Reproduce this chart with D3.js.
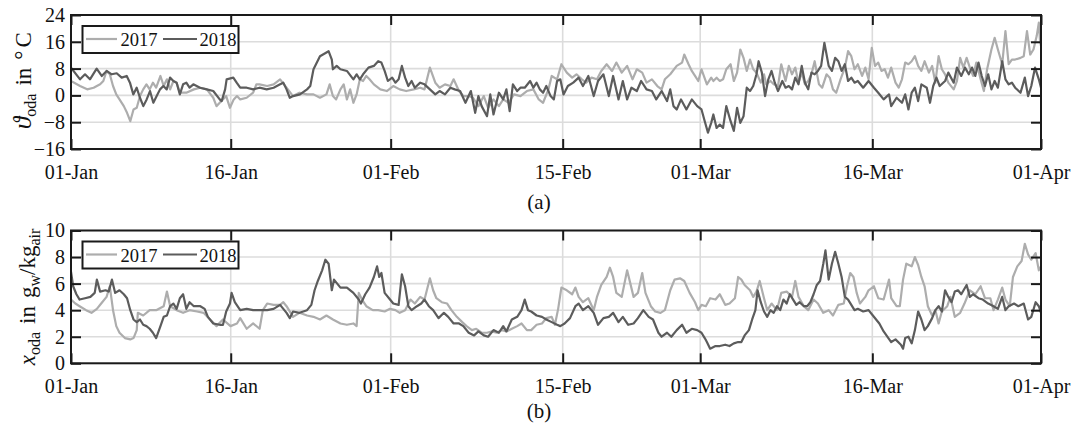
<!DOCTYPE html>
<html>
<head>
<meta charset="utf-8">
<script src="https://cdn.jsdelivr.net/npm/d3@7"></script>
<style>
  html, body { margin: 0; padding: 0; background: #fff; }
  svg { display: block; font-family: "Liberation Serif", "Times New Roman", serif; }
</style>
</head>
<body>
<svg id="chart" width="1073" height="427"></svg>
<script>
// ---------- DATA (x = day offset from 01-Jan as read on the axis) ----------
const xTickPos = [0, 14.82, 29.66, 45.62, 58.38, 74.35, 90];
const xTickLabels = ["01-Jan", "16-Jan", "01-Feb", "15-Feb", "01-Mar", "16-Mar", "01-Apr"];
const seriesNames = ["2017", "2018"];
const tempTicks = [-16, -8, 0, 8, 16, 24];
const humTicks = [0, 2, 4, 6, 8, 10];

// (a) outdoor air temperature in °C
const temp2017 = [[0,4.3],[0.84,2.8],[1.5,1.8],[2.1,2.3],[2.7,3.3],[3,4.3],[3.3,7.3],[3.6,6.3],[3.9,2.8],[4.2,0.3],[4.5,-1.2],[4.9,-3.2],[5.2,-5.2],[5.5,-7.7],[5.8,-4.2],[6.1,-3.7],[6.4,-0.2],[6.7,1.8],[7,3.3],[7.3,1.8],[7.6,3.8],[7.9,2.3],[8.3,5.8],[8.6,2.8],[8.9,4.8],[9.2,1.8],[9.5,4.3],[9.8,3.8],[10.1,0.8],[10.7,0.8],[11.4,1.8],[12,2.3],[12.6,1.8],[13.2,-0.7],[13.5,-3.2],[13.8,-2.2],[14.4,-0.2],[14.75,-3.7],[15.1,-1.2],[15.4,-0.2],[15.7,-1.2],[16.3,-0.7],[16.9,0.8],[17.2,3.3],[17.5,3.3],[18.2,2.8],[18.8,3.3],[19.4,4.8],[20,2.3],[20.6,-0.2],[21.2,0.8],[21.9,0.3],[22.5,0.3],[23.1,-0.7],[23.7,0.3],[24,3.3],[24.3,-0.2],[24.6,-1.2],[25,1.8],[25.3,3.3],[25.6,-1.2],[25.9,1.8],[26.2,-2.2],[26.5,0.3],[26.8,4.8],[27.1,4.3],[27.4,5.8],[27.7,4.8],[28.1,3.3],[28.7,1.8],[29.3,1.3],[29.9,2.8],[30.5,1.8],[31.1,1.3],[31.8,1.8],[32.4,2.3],[32.8,1.8],[33.3,8.3],[33.8,3.8],[34.2,2.3],[34.7,3.3],[35.2,2.8],[35.5,4.8],[36,1.3],[36.4,-0.2],[36.9,-0.2],[37.3,-0.7],[37.8,-3.2],[38.3,-0.2],[38.7,-3.7],[39.2,-1.2],[39.7,-3.2],[40.1,-1.2],[40.6,-2.2],[41.1,0.3],[41.7,-0.2],[42.3,1.3],[42.9,1.8],[43.4,-1.2],[43.8,-2.2],[44.3,1.8],[44.6,5.8],[45.1,4.8],[45.5,9.3],[46,6.8],[46.5,5.3],[46.9,6.3],[47.4,4.8],[47.8,3.8],[48.3,5.3],[48.8,4.8],[49.2,7.3],[49.7,9.3],[50.2,7.3],[50.6,9.8],[51.1,6.8],[51.6,8.8],[52.1,4.8],[52.5,7.8],[53,6.8],[53.4,3.8],[53.9,4.8],[54.4,2.8],[54.8,1.8],[55.1,4.8],[55.6,6.3],[56.2,8.8],[56.7,9.8],[56.9,12.2],[57.3,9.3],[57.6,7.3],[57.9,5.8],[58.2,4.3],[58.5,7.8],[59,3.3],[59.4,5.3],[59.6,4.3],[59.9,5.3],[60.2,4.3],[60.5,4.8],[60.8,7.8],[61.2,9.3],[61.5,4.3],[61.8,6.8],[62.1,13.7],[62.4,11.2],[62.7,7.3],[63,10.7],[63.3,7.8],[63.6,6.8],[64,3.8],[64.3,6.3],[64.5,3.3],[64.9,4.3],[65.2,3.3],[65.6,2.8],[65.9,9.3],[66.3,4.3],[66.6,8.8],[66.9,6.3],[67.2,8.3],[67.5,3.8],[67.8,6.8],[68.1,3.3],[68.4,4.3],[68.7,6.3],[69,10.2],[69.4,3.3],[69.7,2.3],[70.1,6.3],[70.4,5.3],[70.7,1.8],[71,0.8],[71.4,4.8],[71.8,8.3],[72.1,13.2],[72.4,11.7],[72.7,7.8],[73,9.3],[73.4,5.8],[73.7,8.3],[74,4.8],[74.3,14.2],[74.6,8.8],[74.9,9.8],[75.2,7.3],[75.5,7.8],[75.8,5.3],[76.1,8.3],[76.5,3.8],[76.8,2.3],[77.1,4.8],[77.4,9.8],[77.7,9.3],[78,10.2],[78.3,11.7],[78.6,8.8],[78.9,7.3],[79.2,10.2],[79.6,6.8],[79.9,8.8],[80.2,3.8],[80.5,11.7],[80.8,7.8],[81.1,6.3],[81.4,3.8],[81.9,1.8],[82.2,4.3],[82.5,11.2],[82.8,8.3],[83.1,11.2],[83.4,8.3],[83.7,5.8],[84,9.8],[84.4,4.8],[84.7,1.3],[85,7.8],[85.4,13.7],[85.7,17.2],[86,13.7],[86.4,9.3],[86.7,19.2],[87,9.3],[87.3,10.7],[87.6,10.7],[88.1,11.2],[88.4,11.7],[88.7,19.2],[89,12.2],[89.3,13.7],[89.6,17.7],[89.8,21.7],[89.9,16.7],[90,14.7]];
const temp2018 = [[0,8.3],[0.84,4.8],[1.3,6.3],[1.76,4.8],[2.38,8],[2.85,5.8],[3.31,7.3],[3.77,6.3],[4.24,6.6],[4.7,5.3],[5.17,5.8],[5.47,3.8],[5.78,0.3],[6.09,2.3],[6.4,-0.7],[6.71,-3.2],[7.02,-1.2],[7.33,1.3],[7.64,-2.2],[7.95,-0.2],[8.26,1.8],[8.57,2.8],[8.88,1.8],[9.19,5.3],[9.5,4.3],[9.8,3.8],[10.1,0.3],[10.4,3.3],[10.7,3.8],[11,2.3],[11.35,3.3],[11.97,2.3],[12.6,1.8],[13.2,1.3],[13.8,-1.2],[13.98,-1.7],[14.3,1.8],[14.44,4.8],[15.06,5.3],[15.37,3.8],[15.7,2.3],[16.3,2.3],[16.9,1.8],[17.5,2.3],[18.16,1.8],[18.8,2.3],[19.4,3.3],[19.7,3.8],[20,1.8],[20.3,-0.7],[20.6,-0.2],[21.25,0.3],[21.9,1.8],[22.2,2.8],[22.5,7.8],[23.1,11.7],[23.9,13.2],[24.2,10.7],[24.3,7.8],[24.65,8.8],[25,7.8],[25.6,7.3],[26.2,4.8],[26.5,6.3],[26.8,4.8],[27.1,6.3],[27.6,8.3],[28.1,8.8],[28.5,10.2],[28.8,9.8],[29.1,7.3],[29.4,4.3],[29.8,5.3],[30.1,3.8],[30.4,4.8],[30.7,8.8],[31,5.3],[31.3,2.8],[31.6,4.3],[31.9,2.3],[32.4,3.8],[32.8,3.3],[33.3,1.8],[33.8,0.3],[34.2,1.3],[34.7,0.3],[35.2,2.3],[35.6,1.8],[36.1,1.3],[36.6,-2.2],[37.1,1.3],[37.5,-5.2],[37.8,-0.2],[38.1,-3.2],[38.6,-6.2],[38.9,0.3],[39.2,-5.7],[39.7,0.8],[40.1,-1.2],[40.4,1.8],[40.7,-4.7],[41,3.3],[41.4,1.3],[41.7,2.3],[42.1,2.3],[42.6,4.3],[42.9,2.3],[43.2,3.8],[43.5,1.8],[43.8,0.8],[44.1,2.8],[44.5,-0.2],[44.8,-1.2],[45.1,4.3],[45.4,4.8],[45.7,0.3],[46.1,2.8],[46.6,3.8],[47.1,5.3],[47.5,2.8],[48,5.8],[48.5,-0.2],[48.9,4.3],[49.4,6.3],[49.9,-0.2],[50.3,5.8],[50.8,-1.2],[51.2,4.3],[51.6,-1.2],[52,2.3],[52.5,1.3],[52.9,4.3],[53.4,1.8],[53.9,1.3],[54.3,-1.2],[54.8,1.3],[55.3,-1.7],[55.6,1.8],[55.9,-3.2],[56.2,-4.2],[56.6,-1.2],[57.1,-4.2],[57.6,-1.2],[58.1,-3.2],[58.5,-4.2],[58.8,-7.7],[59.1,-11.1],[59.4,-8.2],[59.6,-5.7],[59.9,-9.7],[60.2,-8.7],[60.5,-9.7],[60.8,-3.2],[61.2,-7.7],[61.5,-10.6],[61.8,-3.7],[62.1,-8.2],[62.4,-6.2],[62.7,2.3],[63,1.3],[63.3,2.8],[63.6,6.3],[63.8,10.2],[64.1,6.8],[64.4,-0.2],[64.7,4.8],[65,7.3],[65.3,3.8],[65.6,1.3],[66,4.3],[66.3,2.3],[66.6,2.8],[66.9,1.8],[67.2,5.3],[67.5,3.3],[67.8,8.8],[68.1,3.8],[68.4,1.8],[68.7,6.8],[69,6.3],[69.3,7.3],[69.6,8.8],[69.9,15.7],[70.3,8.8],[70.6,7.3],[70.9,11.2],[71.2,10.2],[71.5,7.3],[71.8,9.3],[72.1,4.3],[72.4,5.3],[72.7,3.8],[73,4.3],[73.5,2.3],[74,4.3],[74.5,2.3],[74.9,0.8],[75.4,-1.2],[75.9,0.3],[76.1,-3.2],[76.6,-0.7],[77.1,-2.2],[77.4,0.3],[77.7,-4.2],[78,0.8],[78.3,2.3],[78.6,-1.7],[78.9,3.3],[79.4,2.3],[79.7,-2.2],[80,2.8],[80.3,5.3],[80.6,2.8],[81.1,4.3],[81.4,6.8],[81.9,3.8],[82.2,8.3],[82.6,5.8],[82.95,8.3],[83.3,6.3],[83.6,8.3],[83.9,5.8],[84.2,9.8],[84.5,5.8],[84.8,2.8],[85.1,6.3],[85.4,1.8],[85.7,4.3],[86,2.3],[86.4,10.2],[86.7,4.8],[87,3.3],[87.3,3.8],[87.6,2.3],[88.1,0.8],[88.5,5.3],[88.8,-0.2],[89.1,2.8],[89.45,8.3],[89.8,4.8],[90,2.3]];

// (b) outdoor air humidity ratio in g_w/kg_air
const hum2017 = [[0,4.8],[0.4,4.5],[0.8,4.3],[1.4,4],[1.9,3.8],[2.4,4.1],[2.8,4.5],[3.3,5],[3.6,5.8],[3.9,4],[4.2,2.8],[4.5,2.3],[5,1.9],[5.5,1.8],[5.8,1.9],[6.1,2.5],[6.2,3.8],[6.7,3.6],[7.3,4],[7.9,4],[8.6,4.3],[8.9,5.4],[9.2,4.3],[9.8,4],[10.4,3.8],[11,4],[11.7,3.9],[12.3,3.8],[12.9,3.3],[13.5,2.8],[14.1,3.3],[14.8,2.8],[15.4,3],[15.7,3.4],[16.3,2.6],[16.9,3],[17.5,2.6],[17.8,4],[18.2,4.5],[18.8,4.4],[19.4,4.4],[19.7,4.6],[20,4.3],[20.6,3.5],[21.2,3.8],[21.9,3.6],[22.5,3.5],[23.1,3.3],[23.7,3.6],[24.3,3.3],[25,3],[25.6,2.9],[26.2,3],[26.5,2.8],[26.7,5.3],[27,4.8],[27.4,4.3],[28,4],[28.5,4],[29.1,3.9],[29.6,4.1],[30.1,4],[30.5,3.8],[31,4],[31.5,4.8],[31.9,4.5],[32.4,5],[32.8,4.8],[33.3,6.4],[33.6,5.5],[33.9,4.9],[34.4,4.6],[34.9,4.5],[35.3,4],[35.8,3.5],[36.3,3.1],[36.7,2.8],[37.2,2.5],[37.6,2.6],[38.1,2.3],[38.6,2.3],[39,2.4],[39.5,2.3],[40,2.5],[40.4,2.4],[40.9,2.6],[41.4,2.8],[41.8,3],[42.3,2.5],[42.7,2.5],[43.2,2.9],[43.7,3],[44.1,3.4],[44.6,3.5],[44.9,2.9],[45.2,4.1],[45.5,5.7],[46,5.5],[46.5,5.2],[46.8,5.7],[47.1,5],[47.5,4.6],[48,4.9],[48.5,4],[48.8,5],[49.2,5.9],[49.7,6.5],[50,7.2],[50.3,6.5],[50.6,5.3],[51.1,5],[51.6,7],[51.9,6],[52.2,5],[52.6,5.3],[53,6.8],[53.3,5.3],[53.8,4.3],[54.2,3.9],[54.7,3.8],[55.1,4],[55.6,5.5],[56,6.3],[56.5,6.4],[56.9,6.2],[57.4,5.3],[57.9,4.6],[58.2,4],[58.5,4.4],[58.9,4.3],[59.3,4.9],[59.8,4.8],[60.2,5.2],[60.7,4.4],[61.1,4.5],[61.6,4.9],[61.9,6.5],[62.2,6.3],[62.5,5.9],[63,5.5],[63.3,5],[63.6,5.4],[63.9,6.2],[64.3,4.9],[64.6,4],[65,4.5],[65.5,4],[65.9,5.3],[66.4,5.4],[66.9,5],[67.2,6.2],[67.5,5],[68,4.3],[68.4,4],[68.9,4.8],[69.3,4.5],[69.8,3.8],[70.3,4],[70.7,3.6],[71.2,4.4],[71.7,4.5],[72,5.8],[72.3,6.8],[72.6,6.5],[72.9,5.3],[73.2,4.5],[73.7,5],[74,5.5],[74.5,5.8],[74.9,4.9],[75.4,4.8],[75.9,6.3],[76.1,4.9],[76.6,4.3],[76.9,4.3],[77.2,6.3],[77.5,7.5],[78,7.3],[78.3,8],[78.6,7.4],[78.9,6.5],[79.2,5.8],[79.5,4.3],[79.9,3.6],[80.2,4],[80.5,3],[80.8,3.9],[81.3,4.3],[81.6,5],[82,3.5],[82.5,3.8],[82.9,4.5],[83.4,5.5],[83.9,5.2],[84.4,5.8],[84.8,4.9],[85.3,4.9],[85.6,4],[86,4.8],[86.4,5.7],[86.7,4.8],[87.1,4.3],[87.4,6.5],[87.8,7.3],[88.2,7.7],[88.5,9],[88.8,8.2],[89.1,7.8],[89.5,8.3],[89.8,7],[90,7.3]];
const hum2018 = [[0,6.9],[0.2,5.8],[0.5,5.2],[0.8,4.8],[1.3,4.9],[1.8,5],[2.2,5.3],[2.4,6.3],[2.7,5.4],[3.2,5.5],[3.5,5.4],[3.8,6.3],[4.1,5.3],[4.5,5.5],[4.9,5.2],[5.2,4.9],[5.5,4],[5.8,3.3],[6.1,3.1],[6.4,3.3],[6.7,2.9],[7,2.8],[7.3,2.6],[7.6,2.3],[7.9,1.9],[8.3,2.8],[8.6,3.5],[8.9,3.6],[9.2,4.3],[9.5,4.5],[9.8,4.1],[10.1,4.9],[10.4,5.2],[10.7,4.1],[11,4.6],[11.4,4.3],[12,4.3],[12.4,4.1],[12.7,3.5],[13.2,3],[13.8,2.9],[14.1,2.9],[14.4,3.9],[14.75,4.5],[14.9,5.3],[15.2,4.6],[15.7,4],[16.3,4.1],[16.9,4],[17.5,4],[18.2,4],[18.8,4.1],[19.4,4.4],[20,3.8],[20.3,3.4],[20.6,3.9],[21.2,3.8],[21.9,4],[22.3,4.4],[22.6,5.5],[22.9,6.2],[23.3,7],[23.6,7.8],[23.9,7.5],[24.2,5.5],[24.4,6.3],[24.7,6],[25,5.7],[25.6,5.7],[26.2,5.3],[26.7,4.8],[26.9,4.5],[27.3,5.2],[27.7,5.7],[28.1,6.5],[28.4,7.3],[28.6,6.5],[28.8,6.8],[29.1,5.3],[29.6,4.8],[29.9,4.5],[30.4,4.4],[30.7,6.7],[31,5.8],[31.3,4.3],[31.6,4],[32.1,4.3],[32.5,4.5],[32.8,4.8],[33.2,4.3],[33.6,4],[34.1,3.4],[34.6,3.8],[35,3.5],[35.5,3],[36,3],[36.4,2.8],[36.9,2.3],[37.4,2.1],[37.8,2.4],[38.3,2.1],[38.7,2],[39.2,2.5],[39.7,2.3],[40.1,2.8],[40.4,2.4],[40.9,3.3],[41.4,3.5],[41.8,4],[42.1,4.8],[42.4,4],[42.7,3.9],[43.2,3.6],[43.7,3.5],[44.1,3.3],[44.6,3.1],[45.1,2.9],[45.4,2.8],[45.8,3],[46.3,3.4],[46.8,4.3],[47.1,4.5],[47.5,4],[48,4.3],[48.5,3.8],[48.9,2.9],[49.4,3.4],[49.9,3.5],[50.3,3.8],[50.8,3.1],[51.2,3.5],[51.7,2.9],[52.2,3],[52.6,3.4],[53.1,4],[53.6,3.5],[54,3.3],[54.5,2.3],[54.8,2],[55.3,2.3],[55.7,2],[56.2,2.5],[56.7,2.9],[57.1,2.3],[57.6,2.6],[58.1,2.5],[58.5,2.3],[58.8,1.9],[59,1.6],[59.3,1.1],[59.8,1.3],[60.2,1.3],[60.7,1.4],[61.1,1.3],[61.5,1.5],[61.9,1.6],[62.2,1.6],[62.5,2.1],[62.9,2.5],[63.2,3.3],[63.5,4],[63.7,5.5],[64,4.6],[64.3,3.9],[64.6,3.5],[64.9,4],[65.2,3.8],[65.5,4.3],[65.8,4],[66.1,4.8],[66.4,4.5],[66.7,5.2],[67,4.8],[67.3,4.4],[67.6,4.6],[68,4.3],[68.3,4.3],[68.6,4.6],[68.9,5.2],[69.2,5.9],[69.5,6.2],[69.8,7.5],[70,8.5],[70.3,6.3],[70.6,7.5],[70.9,8.4],[71.2,7.5],[71.5,6.5],[71.8,5],[72.1,4.8],[72.4,4.4],[72.7,4],[73,4.1],[73.5,3.9],[74,4],[74.4,3.6],[75,3],[75.4,2.4],[76.1,1.6],[76.5,1.8],[77,1.4],[77.2,1.1],[77.4,1.9],[77.7,2],[78,1.5],[78.3,2.5],[78.6,3.9],[78.9,3.3],[79.2,2.5],[79.5,2.8],[79.9,3.4],[80.2,4],[80.5,4.3],[80.8,3.9],[81.1,5.5],[81.4,5],[81.7,4.6],[82,5.4],[82.3,5.5],[82.6,5.2],[83.1,5.9],[83.4,5],[83.7,5.2],[84.2,4.9],[84.6,4.8],[85.1,4.5],[85.6,4.3],[86,4.1],[86.4,5],[86.7,4],[87,4.3],[87.5,4.5],[87.9,4.3],[88.4,4.5],[88.8,3.3],[89.1,3.5],[89.5,4.6],[89.8,4.3],[90,3.8]];

// ---------- STYLE ----------
const colors = { "2017": "#adadad", "2018": "#5c5c5c" };
const W = 1073, H = 427;
const left = 71, right = 1041;
const svg = d3.select("#chart");

const x = d3.scaleLinear().domain([0, 90]).range([left, right]);

function drawPanel(cfg) {
  const g = svg.append("g");
  const y = d3.scaleLinear().domain(cfg.yDomain).range([cfg.bottom, cfg.top]);

  // grid
  g.append("g").selectAll("line.hg").data(cfg.yTicks).join("line")
    .attr("x1", left).attr("x2", right)
    .attr("y1", d => y(d)).attr("y2", d => y(d))
    .attr("stroke", "#dcdcdc").attr("stroke-width", 1.6);
  g.append("g").selectAll("line.vg").data(xTickPos).join("line")
    .attr("x1", d => x(d)).attr("x2", d => x(d))
    .attr("y1", cfg.top).attr("y2", cfg.bottom)
    .attr("stroke", "#dcdcdc").attr("stroke-width", 1.6);

  // lines
  const clipId = "clip" + cfg.id;
  svg.append("clipPath").attr("id", clipId).append("rect")
    .attr("x", left).attr("y", cfg.top).attr("width", right - left).attr("height", cfg.bottom - cfg.top);
  const line = d3.line().x(d => x(d[0])).y(d => y(d[1]));
  const lg = g.append("g").attr("clip-path", `url(#${clipId})`);
  cfg.series.forEach((s, i) => {
    lg.append("path").datum(s).attr("d", line)
      .attr("fill", "none").attr("stroke", colors[seriesNames[i]])
      .attr("stroke-width", 2.2).attr("stroke-linejoin", "round");
  });

  // axes (ticks inside)
  const fmt = (d, i) => xTickLabels[i];
  g.append("g").attr("transform", `translate(0,${cfg.bottom})`)
    .call(d3.axisBottom(x).tickValues(xTickPos).tickFormat(fmt).tickSizeInner(-10).tickSizeOuter(0).tickPadding(16))
    .call(a => a.select(".domain").remove());
  g.append("g").attr("transform", `translate(0,${cfg.top})`)
    .call(d3.axisTop(x).tickValues(xTickPos).tickFormat("").tickSizeInner(-10).tickSizeOuter(0))
    .call(a => a.select(".domain").remove());
  g.append("g").attr("transform", `translate(${left},0)`)
    .call(d3.axisLeft(y).tickValues(cfg.yTicks).tickSizeInner(-10).tickSizeOuter(0).tickPadding(6))
    .call(a => a.select(".domain").remove());
  g.append("g").attr("transform", `translate(${right},0)`)
    .call(d3.axisRight(y).tickValues(cfg.yTicks).tickFormat("").tickSizeInner(-10).tickSizeOuter(0))
    .call(a => a.select(".domain").remove());
  g.selectAll(".tick line").attr("stroke", "#1a1a1a").attr("stroke-width", 2);
  g.selectAll(".tick text").attr("font-family", "Liberation Serif, serif").attr("font-size", 20).attr("fill", "#111");

  // box
  g.append("rect").attr("x", left).attr("y", cfg.top)
    .attr("width", right - left).attr("height", cfg.bottom - cfg.top)
    .attr("fill", "none").attr("stroke", "#1a1a1a").attr("stroke-width", 2);

  // legend
  const L = g.append("g").attr("transform", `translate(82,${cfg.top + 11})`);
  L.append("rect").attr("x", 0.5).attr("y", 0).attr("width", 156).attr("height", 27)
    .attr("fill", "#fff").attr("stroke", "#1a1a1a").attr("stroke-width", 2);
  const items = [{ x0: 4, x1: 35, tx: 38.5 }, { x0: 81, x1: 115, tx: 117.5 }];
  items.forEach((it, i) => {
    L.append("line").attr("x1", it.x0).attr("x2", it.x1).attr("y1", 13).attr("y2", 13)
      .attr("stroke", colors[seriesNames[i]]).attr("stroke-width", 2.2);
    L.append("text").attr("x", it.tx).attr("y", 20).attr("font-size", 18.5).attr("fill", "#111")
      .text(seriesNames[i]);
  });

  // y label
  const t = svg.append("text")
    .attr("transform", `translate(${cfg.labelX},${cfg.labelY}) rotate(-90)`)
    .attr("text-anchor", "middle").attr("font-size", 23).attr("fill", "#111");
  cfg.label(t);

  // caption
  svg.append("text").attr("x", 539).attr("y", cfg.captionY).attr("text-anchor", "middle")
    .attr("font-size", 21).attr("fill", "#111").text(cfg.caption);
}

drawPanel({
  id: "a", top: 15, bottom: 149, yDomain: [-16, 24], yTicks: tempTicks,
  series: [temp2017, temp2018], labelX: 31, labelY: 80.5, captionY: 209, caption: "(a)",
  label: t => {
    t.append("tspan").attr("font-style", "italic").attr("font-size", 25).text("ϑ");
    t.append("tspan").attr("font-size", 16).attr("dy", 5).text("oda");
    t.append("tspan").attr("dy", -5).attr("dx", 8).text("in");
    t.append("tspan").attr("dx", 8).text("°");
    t.append("tspan").attr("dx", 3).text("C");
  }
});

drawPanel({
  id: "b", top: 230.5, bottom: 363.3, yDomain: [0, 10], yTicks: humTicks,
  series: [hum2017, hum2018], labelX: 35, labelY: 297, captionY: 418, caption: "(b)",
  label: t => {
    t.append("tspan").attr("font-style", "italic").text("x");
    t.append("tspan").attr("font-size", 16).attr("dy", 5).text("oda");
    t.append("tspan").attr("dy", -5).attr("dx", 8).text("in");
    t.append("tspan").attr("dx", 8).text("g");
    t.append("tspan").attr("font-size", 16).attr("dy", 5).text("w");
    t.append("tspan").attr("dy", -5).text("/kg");
    t.append("tspan").attr("font-size", 16).attr("dy", 5).text("air");
  }
});
</script>
</body>
</html>
